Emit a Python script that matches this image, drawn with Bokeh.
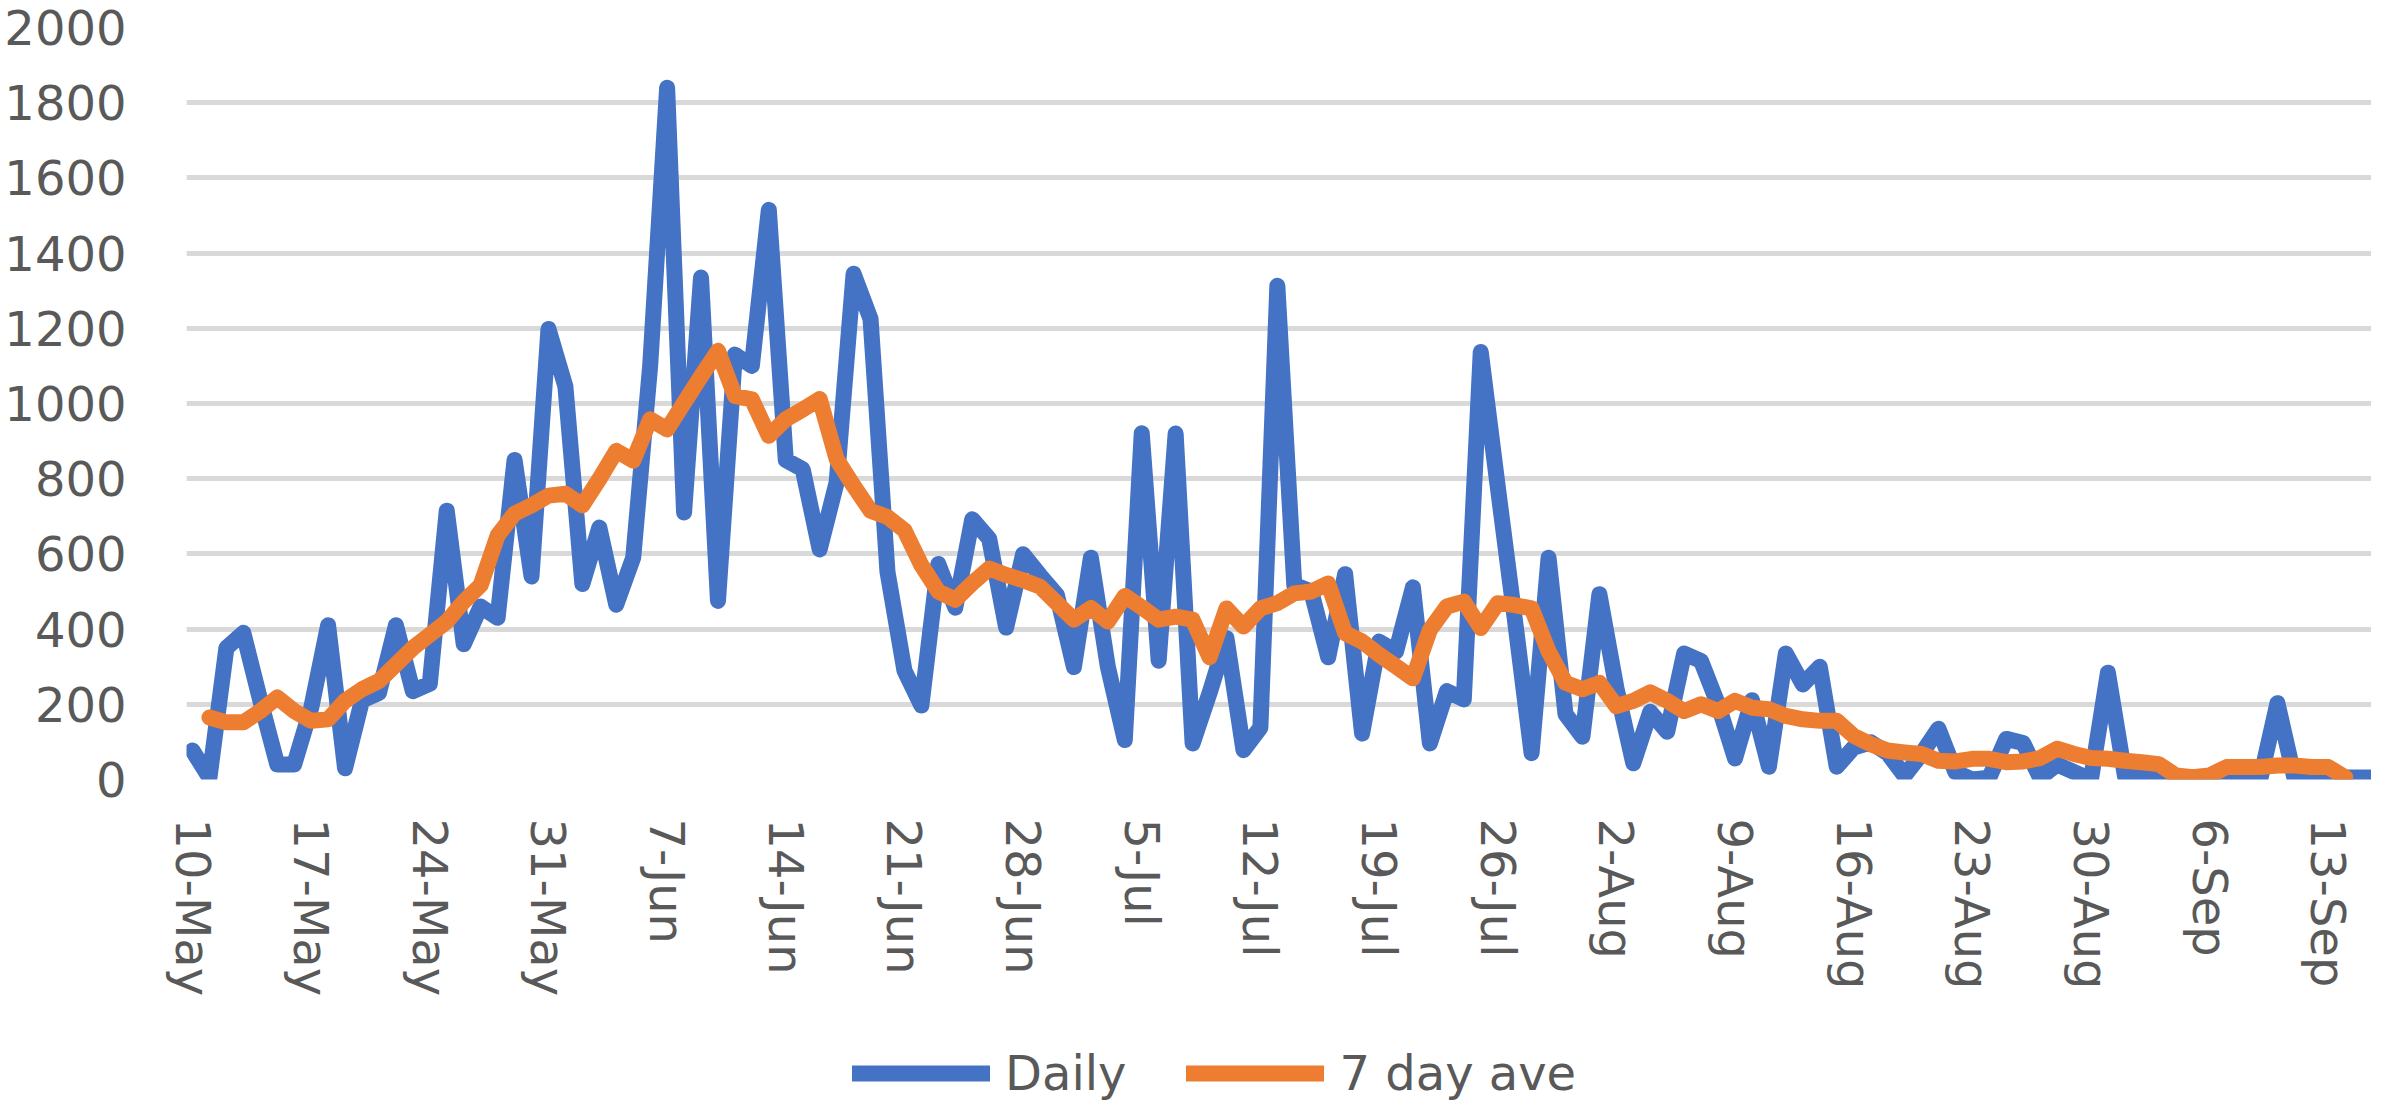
from bokeh.plotting import figure
from bokeh.layouts import column
from bokeh.models import Range1d, FixedTicker, Legend, LegendItem
from bokeh.embed import file_html
from bokeh.resources import INLINE

# Daily values, one per day from 10-May (day 0) to 16-Sep (day 129)
daily = [77, 5, 350, 390, 210, 40, 40, 190, 410, 30,
         210, 230, 410, 235, 255, 715, 360, 460, 430, 850,
         540, 1198, 1045, 520, 670, 465, 590, 1100, 1840, 710,
         1335, 475, 1130, 1100, 1515, 850, 825, 612, 790, 1345,
         1225, 552, 290, 197, 573, 457, 692, 640, 404, 599,
         543, 490, 299, 590, 300, 105, 921, 316, 920, 96,
         230, 376, 78, 138, 1313, 517, 500, 325, 546, 122,
         367, 340, 511, 96, 235, 213, 1137, 780, 430, 70,
         590, 174, 114, 493, 244, 43, 180, 127, 335, 315,
         200, 56, 211, 34, 335, 253, 300, 34, 85, 99,
         70, 10, 68, 135, 20, 0, 5, 108, 97, 5,
         40, 20, 0, 284, 10, 5, 5, 0, 0, 0,
         3, 3, 3, 203, 5, 5, 5, 5, 5, 5]

# 7 day average, from 11-May (day 1) to 13-Sep (day 127)
ave = [165, 152, 152, 182, 218, 182, 156, 160, 209,
       240, 262, 306, 350, 385, 420, 473, 517, 649, 707,
       729, 755, 760, 729, 799, 874, 848, 958, 931, 1002,
       1072, 1140, 1020, 1011, 914, 958, 984, 1012, 852, 781,
       715, 698, 663, 570, 500, 478, 522, 561, 544, 530,
       513, 469, 425, 456, 420, 488, 458, 425, 433, 425,
       325, 455, 407, 455, 469, 495, 500, 521, 389, 367,
       332, 301, 269, 398, 460, 473, 403, 469, 464, 455,
       341, 257, 240, 257, 195, 209, 232, 209, 182, 200,
       182, 209, 191, 187, 169, 160, 156, 156, 116, 94,
       77, 72, 68, 50, 48, 55, 55, 46, 48, 57,
       82, 68, 57, 55, 50, 46, 41, 11, 6, 11,
       33, 33, 33, 37, 37, 33, 33, 6]

days = list(range(len(daily)))
ave_days = list(range(1, 1 + len(ave)))

tick_days = [0, 7, 14, 21, 28, 35, 42, 49, 56, 63, 70, 77, 84, 91, 98, 105, 112, 119, 126]
tick_labels = ["10-May", "17-May", "24-May", "31-May", "7-Jun", "14-Jun", "21-Jun",
               "28-Jun", "5-Jul", "12-Jul", "19-Jul", "26-Jul", "2-Aug", "9-Aug",
               "16-Aug", "23-Aug", "30-Aug", "6-Sep", "13-Sep"]
y_ticks = [0, 200, 400, 600, 800, 1000, 1200, 1400, 1600, 1800, 2000]

series_names = ["Daily", "7 day ave"]
series_colors = ["#4472C4", "#ED7D31"]
series_x = [days, ave_days]
series_y = [daily, ave]

FONT = "DejaVu Sans"
TXT = "#595959"
W = 2371

# ---- main chart ----
p = figure(width=W, height=1000,
           x_range=Range1d(-0.354, 128.55), y_range=Range1d(0, 2000),
           output_backend="svg", toolbar_location=None,
           min_border_left=186, min_border_right=0,
           min_border_top=27, min_border_bottom=221)
p.outline_line_color = None
p.background_fill_color = "white"
p.border_fill_color = "white"

p.xgrid.visible = False
p.ygrid.grid_line_color = "#D9D9D9"
p.ygrid.grid_line_width = 5
p.ygrid.ticker = FixedTicker(ticks=y_ticks)

p.yaxis.ticker = FixedTicker(ticks=y_ticks)
p.xaxis.ticker = FixedTicker(ticks=tick_days)
p.xaxis.major_label_overrides = {d: lab for d, lab in zip(tick_days, tick_labels)}
p.xaxis.major_label_orientation = "vertical"

for ax in (p.xaxis, p.yaxis):
    ax.axis_line_color = None
    ax.major_tick_line_color = None
    ax.minor_tick_line_color = None
    ax.major_tick_out = 0
    ax.major_tick_in = 0
    ax.major_label_text_font = FONT
    ax.major_label_text_font_size = "48px"
    ax.major_label_text_color = TXT
p.yaxis.major_label_standoff = 60
p.xaxis.major_label_standoff = 39

for xs, ys, col in zip(series_x, series_y, series_colors):
    p.line(xs, ys, line_color=col, line_width=16,
           line_join="round", line_cap="round")

# ---- legend strip below the chart (frame aligned with the chart's frame) ----
lg = figure(width=W, height=103, output_backend="svg", toolbar_location=None,
            x_axis_type=None, y_axis_type=None,
            x_range=Range1d(0, 1), y_range=Range1d(0, 1),
            min_border_left=0, min_border_right=0,
            min_border_top=0, min_border_bottom=0)
lg.outline_line_color = None
lg.xgrid.visible = False
lg.ygrid.visible = False
lg.border_fill_color = "white"
lg.background_fill_color = "white"

items = []
for name, col, xs, ys in zip(series_names, series_colors, series_x, series_y):
    # one-point stand-in renderer: draws nothing, only styles the legend key
    r = lg.line(xs[:1], ys[:1], line_color=col, line_width=16, line_cap="round")
    items.append(LegendItem(label=name, renderers=[r]))

legend = Legend(items=items, orientation="horizontal", location=(666, 2),
                glyph_width=138, glyph_height=48, label_height=48,
                label_standoff=15, spacing=60, padding=0, margin=0,
                border_line_color=None, background_fill_alpha=0,
                label_text_font=FONT, label_text_font_size="48px",
                label_text_color=TXT)
lg.add_layout(legend, "center")

layout = column(p, lg, spacing=0)
open("out.html", "w").write(file_html(layout, INLINE))
